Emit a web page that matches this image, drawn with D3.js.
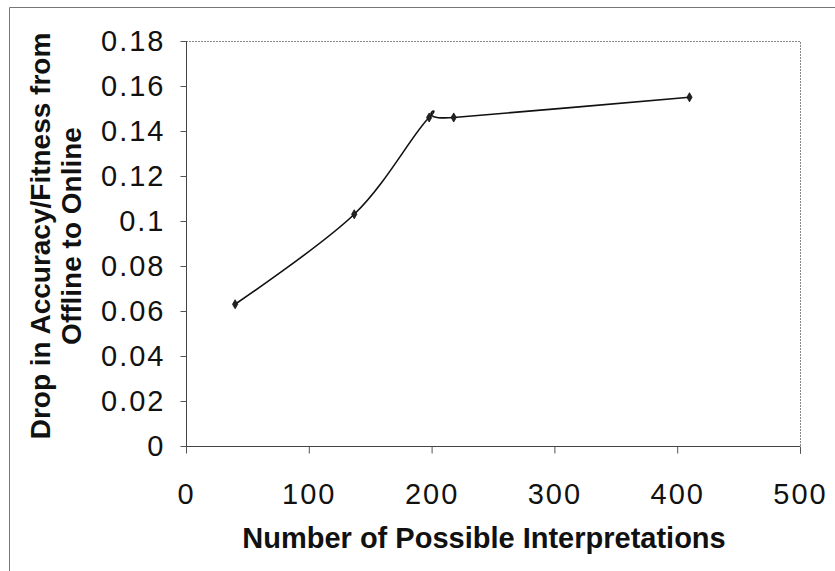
<!DOCTYPE html>
<html>
<head>
<meta charset="utf-8">
<script src="https://cdn.jsdelivr.net/npm/d3@7"></script>
<style>
  html, body { margin: 0; padding: 0; background: #fff; }
  svg { display: block; font-family: "Liberation Sans", Arial, sans-serif; }
</style>
</head>
<body>
<svg id="chart" width="835" height="571"></svg>
<script>
// Number of possible interpretations vs. drop in accuracy/fitness
const interpretations = [40, 137, 198, 218, 410];
const drops = [0.063, 0.103, 0.146, 0.146, 0.155];
const xTicks = [0, 100, 200, 300, 400, 500];
const yTicks = [0, 0.02, 0.04, 0.06, 0.08, 0.1, 0.12, 0.14, 0.16, 0.18];
const xTitle = "Number of Possible Interpretations";
const yTitleLines = ["Drop in Accuracy/Fitness from", "Offline to Online"];

const svg = d3.select("#chart");
const plot = { left: 186, right: 800, top: 41, bottom: 446 };

const x = d3.scaleLinear().domain([0, 500]).range([plot.left, plot.right]);
const y = d3.scaleLinear().domain([0, 0.18]).range([plot.bottom, plot.top]);

const tickFont = g => g.selectAll("text")
  .attr("font-size", 29).attr("letter-spacing", 2).attr("fill", "#111")
  .attr("font-family", "'Liberation Sans', Arial, sans-serif");

// outer frame
svg.append("path")
  .attr("d", `M9.5,571 V7.5 H835`)
  .attr("fill", "none").attr("stroke", "#777").attr("stroke-width", 1);

// plot area frame (top and right, dotted)
svg.append("path")
  .attr("d", `M${plot.left},${plot.top + 0.5} H${plot.right + 0.5} V${plot.bottom + 8}`)
  .attr("fill", "none").attr("stroke", "#888").attr("stroke-width", 1)
  .attr("stroke-dasharray", "2,1");

// axes
const yAxis = d3.axisLeft(y).tickValues(yTicks).tickSize(6).tickPadding(16)
  .tickFormat(d => d3.format("~g")(d));
svg.append("g").attr("transform", `translate(${plot.left + 0.5},0)`).call(yAxis)
  .call(g => g.select(".domain").attr("stroke", "#444").attr("d", `M0,${plot.top}V${plot.bottom}`))
  .call(g => g.selectAll(".tick line").attr("stroke", "#555"))
  .call(tickFont)
  .call(g => g.selectAll("text").attr("x", -21));

const xAxis = d3.axisBottom(x).tickValues(xTicks).tickSize(7).tickPadding(30)
  .tickFormat(d3.format("d"));
svg.append("g").attr("transform", `translate(0,${plot.bottom + 0.5})`).call(xAxis)
  .call(g => g.select(".domain").attr("stroke", "#444").attr("d", `M${plot.left},0H${plot.right}`))
  .call(g => g.selectAll(".tick line").attr("stroke", "#555"))
  .call(tickFont);

// axis titles
svg.append("text")
  .attr("x", 484).attr("y", 548)
  .attr("text-anchor", "middle").attr("font-weight", "bold").attr("font-size", 29)
  .attr("fill", "#111").text(xTitle);

const yt = svg.append("text")
  .attr("transform", `translate(50,236) rotate(-90)`)
  .attr("text-anchor", "middle").attr("font-weight", "bold").attr("font-size", 28)
  .attr("fill", "#111");
yTitleLines.forEach((t, i) => {
  yt.append("tspan").attr("x", 0).attr("dy", i === 0 ? 0 : 31).text(t);
});

// smoothed data line
const pts = interpretations.map((v, i) => [v, drops[i]]);
const line = d3.line().x(d => x(d[0])).y(d => y(d[1])).curve(d3.curveCardinal.tension(0));
svg.append("path").datum(pts).attr("d", line)
  .attr("fill", "none").attr("stroke", "#111").attr("stroke-width", 1.6);

// diamond markers
svg.selectAll(".marker").data(pts).enter().append("path")
  .attr("class", "marker")
  .attr("transform", d => `translate(${x(d[0])},${y(d[1])})`)
  .attr("d", d3.symbol().type(d3.symbolDiamond).size(24))
  .attr("fill", "#222").attr("stroke", "#111").attr("stroke-width", 0.8);
</script>
</body>
</html>
